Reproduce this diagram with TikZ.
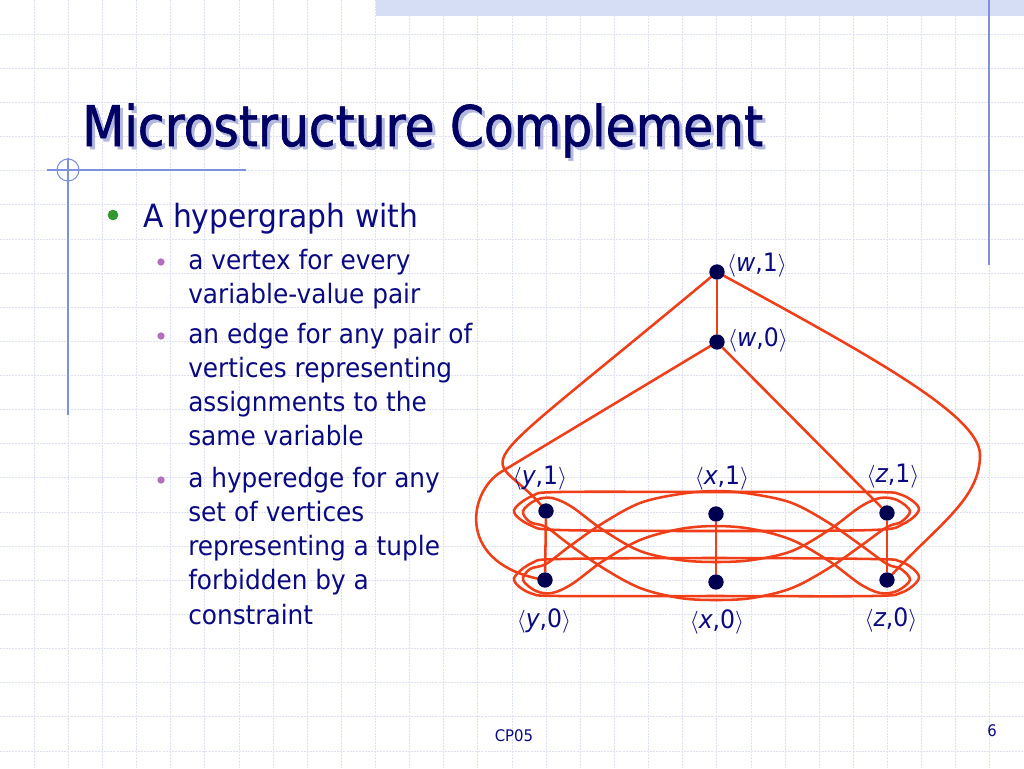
\documentclass[tikz,border=0pt]{standalone}
\usepackage{fontspec}
\setmainfont{DejaVu Sans}[FakeStretch=0.93]
\newfontfamily\titlefont{DejaVu Sans}[FakeStretch=0.87, FakeBold=1.2]
\definecolor{navy}{RGB}{10,10,130}
\definecolor{titlec}{RGB}{0,0,100}
\definecolor{shadowc}{RGB}{178,184,222}
\definecolor{gridc}{RGB}{220,225,245}
\definecolor{edgec}{RGB}{240,62,24}
\definecolor{dotc}{RGB}{0,0,80}
\definecolor{bandc}{RGB}{214,222,246}
\definecolor{decoc}{RGB}{125,145,222}
\definecolor{bulg}{RGB}{50,150,50}
\definecolor{bulp}{RGB}{180,110,190}
\pgfdeclarelayer{bg}
\pgfdeclarelayer{edges}
\pgfsetlayers{bg,edges,main}
\tikzset{
  gridline/.style={gridc, line width=0.6pt, dash pattern=on 1.5pt off 0.8pt},
  deco/.style={decoc, line width=0.8pt},
  vtx/.style={circle, fill=dotc, inner sep=0pt, minimum size=11.5pt},
  lab/.style={text=navy, font=\fontsize{19}{19}\selectfont, inner sep=0pt},
  edge/.style={edgec, line width=1.9pt},
  hyper/.style={edgec, line width=1.9pt},
  titletext/.style={font=\titlefont\fontsize{42}{42}\selectfont, anchor=base west, inner sep=0pt},
  main/.style={text=navy, font=\fontsize{24}{24}\selectfont, anchor=base west, inner sep=0pt},
  sub/.style={text=navy, font=\fontsize{20}{20}\selectfont, anchor=base west, inner sep=0pt},
  foot/.style={text=navy, font=\fontsize{12}{12}\selectfont, inner sep=0pt},
  bigdot/.style={circle, fill=bulg, inner sep=0pt, minimum size=8pt},
  smalldot/.style={circle, fill=bulp, inner sep=0pt, minimum size=5.5pt}
}
\newcommand{\shadowed}[1]{\rlap{\kern2.3pt\raisebox{-2.3pt}{\textcolor{shadowc}{#1}}}\textcolor{titlec}{#1}}
\newcommand{\pairlab}[2]{$\big\langle$\textit{#1},#2$\big\rangle$}
\begin{document}
\begin{tikzpicture}[x=0.75pt,y=-0.75pt]
\useasboundingbox (0,0) rectangle (1024,768);
\begin{pgfonlayer}{bg}
\fill[white] (0,0) rectangle (1024,768);
\foreach \k in {1,...,29} \draw[gridline] (34.133*\k,0) -- (34.133*\k,768);
\foreach \k in {1,...,22} \draw[gridline] (0,34.133*\k) -- (1024,34.133*\k);
\fill[bandc] (376,0) rectangle (1024,16);
\draw[deco, line width=1.1pt] (989,0) -- (989,265);
\draw[deco] (47,170) -- (246,170);
\draw[deco] (68,158) -- (68,415);
\draw[deco] (68,170) circle[radius=8.25pt];
\end{pgfonlayer}

% title
\node[titletext] (title) at (82,146) {\shadowed{Microstructure Complement}};

% bullets
\node[bigdot] (b0) at (113,215) {};
\node[main] (t0) at (143,227) {A hypergraph with};
\node[smalldot] (b1) at (161,262) {};
\node[sub] (t11) at (188,269) {a vertex for every};
\node[sub] (t12) at (188,303.3) {variable-value pair};
\node[smalldot] (b2) at (161,336) {};
\node[sub] (t21) at (188,343) {an edge for any pair of};
\node[sub] (t22) at (188,377.3) {vertices representing};
\node[sub] (t23) at (188,411.6) {assignments to the};
\node[sub] (t24) at (188,445.9) {same variable};
\node[smalldot] (b3) at (161,480) {};
\node[sub] (t31) at (188,487) {a hyperedge for any};
\node[sub] (t32) at (188,521.3) {set of vertices};
\node[sub] (t33) at (188,555.6) {representing a tuple};
\node[sub] (t34) at (188,589.9) {forbidden by a};
\node[sub] (t35) at (188,624.2) {constraint};

% vertices
\node[vtx] (w1) at (717,272) {};
\node[vtx] (w0) at (717,342) {};
\node[vtx] (y1) at (546,511) {};
\node[vtx] (x1) at (716,514) {};
\node[vtx] (z1) at (887,513) {};
\node[vtx] (y0) at (545,580) {};
\node[vtx] (x0) at (716,582) {};
\node[vtx] (z0) at (887,580) {};

% labels
\node[lab] (lw1) at (757,265) {\pairlab{w}{1}};
\node[lab] (lw0) at (758,340) {\pairlab{w}{0}};
\node[lab] (ly1) at (540,478) {\pairlab{y}{1}};
\node[lab] (lx1) at (722,478) {\pairlab{x}{1}};
\node[lab] (lz1) at (893,476) {\pairlab{z}{1}};
\node[lab] (ly0) at (544,621) {\pairlab{y}{0}};
\node[lab] (lx0) at (717,622) {\pairlab{x}{0}};
\node[lab] (lz0) at (891,620) {\pairlab{z}{0}};

% footer
\node[foot] (cp) at (514,736) {CP05};
\node[foot] (pg) at (992,731) {6};

\begin{pgfonlayer}{edges}
\draw[edge] (w1) -- (w0);
\draw[edge] (y1) -- (y0);
\draw[edge] (x1) -- (x0);
\draw[edge] (z1) -- (z0);
\draw[edge] (w0) -- (z1);
\draw[edge] (w1.center) .. controls (441,502) and (490,440) .. (y1.center);
\draw[edge] (w0.center) -- (501,472) .. controls (468,492) and (455,565) .. (y0.center);
\draw[edge] (w1.center) .. controls (867,354) and (980,415) .. (980,455) .. controls (980,500) and (937,525) .. (z0.center);
% hyperedges
\draw[hyper] plot[smooth cycle, tension=0.55] coordinates {(514,511) (532,496) (560,492) (716,492) (872,492) (902,495) (919,509) (903,524) (872,530) (716,531) (560,530) (530,525)};
\draw[hyper] plot[smooth cycle, tension=0.55] coordinates {(514,579) (532,563) (560,559) (716,558) (872,559) (902,562) (919,577) (903,592) (872,596) (716,596) (560,596) (530,593)};
\draw[hyper] plot[smooth cycle, tension=0.55] coordinates {(523,511) (536,500) (552,498) (572,507) (603,530) (640,551) (680,560) (716,562) (752,560) (792,551) (829,530) (860,507) (880,498) (897,500) (910,511) (901,522) (887,527) (862,545) (829,568) (792,588) (752,598) (716,600) (680,598) (640,588) (603,568) (570,545) (546,527) (530,522)};
\draw[hyper] plot[smooth cycle, tension=0.55] coordinates {(523,580) (530,569) (546,564) (570,546) (603,523) (640,503) (680,494) (716,491) (752,494) (792,503) (829,523) (862,546) (887,564) (901,569) (910,580) (897,591) (880,593) (860,584) (829,561) (792,540) (752,529) (716,526) (680,529) (640,540) (603,561) (572,584) (552,593) (536,591)};
\end{pgfonlayer}
\end{tikzpicture}
\end{document}
